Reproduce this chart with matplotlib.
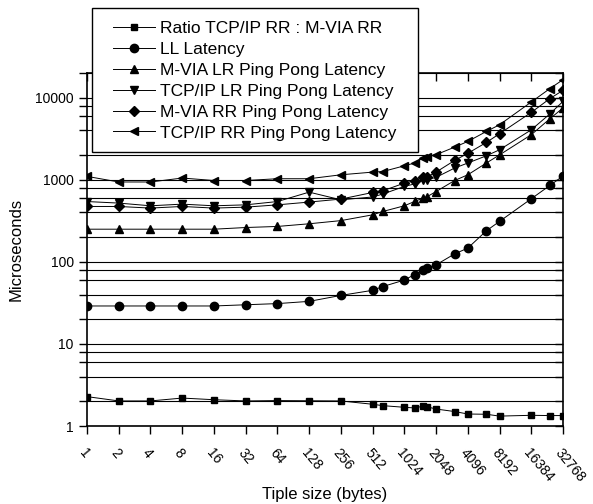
import numpy as np
import matplotlib.pyplot as plt
from matplotlib.patches import Rectangle
from matplotlib.ticker import LogLocator, NullLocator, NullFormatter

plt.rcParams['font.family'] = ['Liberation Sans', 'DejaVu Sans']

# Tuple sizes (bytes)
sizes = [1, 2, 4, 8, 16, 32, 64, 128, 256, 512, 640, 1024, 1280, 1536, 1664,
         2048, 3072, 4096, 6144, 8192, 16384, 24576, 32768]

ratio = [2.28, 2.02, 2.02, 2.19, 2.09, 2.02, 2.04, 2.03, 2.02, 1.84, 1.77, 1.69,
         1.66, 1.74, 1.72, 1.61, 1.50, 1.40, 1.39, 1.32, 1.35, 1.34, 1.34]
ll_latency = [29, 29, 29, 29, 29, 30, 31, 33, 39, 45, 50, 60, 70, 79, 84, 92,
              125, 147, 239, 311, 587, 852, 1112]
mvia_lr = [250, 250, 250, 250, 250, 262, 270, 291, 318, 374, 411, 482, 544, 598,
           617, 719, 980, 1150, 1600, 2010, 3540, 5530, 7500]
tcp_lr = [543, 520, 482, 505, 482, 495, 543, 707, 570, 617, 670, 830, 890, 990,
          1000, 1070, 1390, 1600, 1960, 2320, 4060, 6340, 9020]
mvia_rr = [473, 473, 452, 473, 452, 464, 495, 535, 582, 700, 735, 910, 980, 1070,
           1080, 1240, 1720, 2100, 2850, 3640, 6620, 9740, 12300]
tcp_rr = [1100, 940, 940, 1050, 980, 980, 1030, 1030, 1150, 1240, 1260, 1480,
          1600, 1860, 1910, 2020, 2500, 2930, 3880, 4680, 8860, 12900, 16600]

labels = ['Ratio TCP/IP RR : M-VIA RR', 'LL Latency', 'M-VIA LR Ping Pong Latency',
          'TCP/IP LR Ping Pong Latency', 'M-VIA RR Ping Pong Latency',
          'TCP/IP RR Ping Pong Latency']
series = [ratio, ll_latency, mvia_lr, tcp_lr, mvia_rr, tcp_rr]
markers = ['s', 'o', '^', 'v', 'D', '<']
msizes = [5, 6, 6, 6, 5, 6]

xticks = [1, 2, 4, 8, 16, 32, 64, 128, 256, 512, 1024, 2048, 4096, 8192,
          16384, 32768]

W, H = 593, 504
fig = plt.figure(figsize=(W / 100, H / 100), dpi=100)
ax = fig.add_axes([87 / W, 1 - 426 / H, 476 / W, 353 / H])

for y, m, ms, lab in zip(series, markers, msizes, labels):
    ax.plot(sizes, y, color='black', linewidth=0.7, marker=m, markersize=ms,
            label=lab)

ax.set_xscale('log', base=2)
ax.set_yscale('log')
ax.set_xlim(1, 32768)
ax.set_ylim(1, 20000)

ax.set_xticks(xticks)
ax.set_xticklabels([str(t) for t in xticks], rotation=-50, ha='left', va='top',
                   rotation_mode='anchor', fontsize=10)
ax.xaxis.set_minor_locator(NullLocator())

ax.set_yticks([1, 10, 100, 1000, 10000])
ax.set_yticklabels(['1', '10', '100', '1000', '10000'], fontsize=10)
ax.yaxis.set_minor_locator(LogLocator(base=10, subs=[2, 4, 6, 8]))
ax.yaxis.set_minor_formatter(NullFormatter())

ax.grid(True, which='both', axis='y', color='black', linewidth=0.8)

ax.tick_params(axis='x', which='major', direction='out', length=6, width=1,
               top=True, pad=8)
ax.tick_params(axis='y', which='both', direction='out', length=6, width=1,
               right=True)
for t in ax.xaxis.get_major_ticks():
    t.tick2line.set_marker(3)  # top ticks point inward
for t in ax.yaxis.get_major_ticks() + ax.yaxis.get_minor_ticks():
    t.tick2line.set_marker(0)  # right ticks point inward

for s in ax.spines.values():
    s.set_linewidth(1.2)

ax.set_ylabel('Microseconds', fontsize=12, labelpad=8)
ax.set_xlabel('Tiple size (bytes)', fontsize=12)
ax.xaxis.set_label_coords(0.5, -0.172)

# legend box sits partly above the plot area
box = Rectangle((92 / W, 1 - 152 / H), 326 / W, 144 / H, transform=fig.transFigure,
                facecolor='white', edgecolor='black', linewidth=1.0,
                zorder=4, clip_on=False)
ax.add_artist(box)
leg = ax.legend(loc='upper left', bbox_to_anchor=(113 / W, 1 - 21 / H),
                bbox_transform=fig.transFigure, fontsize=12.5, frameon=False,
                handlelength=2.4, handletextpad=0.3, labelspacing=0.33,
                borderpad=0, borderaxespad=0)
leg.set_zorder(5)

fig.savefig('out.png', dpi=100)
